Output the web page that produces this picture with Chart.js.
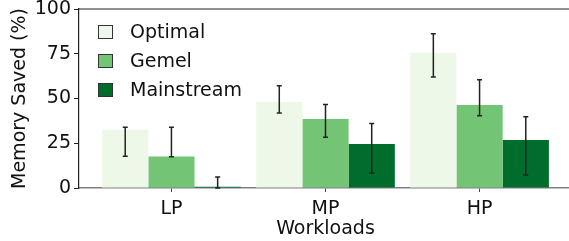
<!DOCTYPE html>
<html>
<head>
<meta charset="utf-8">
<script src="https://cdn.jsdelivr.net/npm/chart.js@4"></script>
<style>
  html, body { margin: 0; padding: 0; background: #fff; overflow: hidden; }
  #wrap { width: 580px; height: 241px; position: relative; }
</style>
</head>
<body>
<div id="wrap"><canvas id="memChart"></canvas></div>
<script>
// chart values
const workloads = ['LP', 'MP', 'HP'];
const seriesNames = ['Optimal', 'Gemel', 'Mainstream'];
const optimal = [32.6, 48.0, 75.4];
const gemel = [17.6, 38.5, 46.4];
const mainstream = [0.7, 24.6, 26.8];
// error bars as [low, high]
const optimalErr = [[17.8, 34.0], [41.9, 57.1], [62.0, 86.2]];
const gemelErr = [[17.5, 34.0], [28.3, 46.7], [40.4, 60.5]];
const mainstreamErr = [[0, 6.2], [8.4, 36.1], [7.3, 39.8]];
const yTicks = [0, 25, 50, 75, 100];
const colors = ['#edf8e9', '#74c476', '#006d2c'];

const FONT = 'DejaVu Sans';
Chart.defaults.font.family = FONT;
Chart.defaults.font.size = 19;
Chart.defaults.color = '#111';

const seriesValues = [optimal, gemel, mainstream];
const seriesErr = [optimalErr, gemelErr, mainstreamErr];

// error bars, spines, legend and axis titles
const extras = {
    id: 'extras',
    afterDatasetsDraw(chart) {
        const ctx = chart.ctx;
        const yScale = chart.scales.y;
        ctx.save();
        ctx.strokeStyle = '#222';
        ctx.lineWidth = 1.5;
        chart.data.datasets.forEach((ds, di) => {
            const meta = chart.getDatasetMeta(di);
            meta.data.forEach((bar, i) => {
                const [lo, hi] = seriesErr[di][i];
                const x = bar.x;
                const y1 = yScale.getPixelForValue(lo);
                const y2 = yScale.getPixelForValue(hi);
                ctx.beginPath();
                ctx.moveTo(x, y1); ctx.lineTo(x, y2);
                ctx.moveTo(x - 2.5, y1); ctx.lineTo(x + 2.5, y1);
                ctx.moveTo(x - 2.5, y2); ctx.lineTo(x + 2.5, y2);
                ctx.stroke();
            });
        });
        ctx.restore();
    },
    afterDraw(chart) {
        const ctx = chart.ctx;
        const area = chart.chartArea;
        ctx.save();
        // top and right spines
        ctx.strokeStyle = '#222';
        ctx.lineWidth = 1.2;
        ctx.beginPath();
        ctx.moveTo(area.left, area.top);
        ctx.lineTo(area.right, area.top);
        ctx.lineTo(area.right, area.bottom);
        ctx.stroke();

        // legend inside the plot
        ctx.font = '19px "' + FONT + '"';
        ctx.textBaseline = 'middle';
        ctx.textAlign = 'left';
        seriesNames.forEach((name, i) => {
            const cy = 32 + i * 29;
            ctx.fillStyle = colors[i];
            ctx.fillRect(98, cy - 7, 15, 14);
            ctx.strokeStyle = '#333';
            ctx.lineWidth = 1;
            ctx.strokeRect(98.5, cy - 6.5, 14, 13);
            ctx.fillStyle = '#111';
            ctx.fillText(name, 130, cy + 1);
        });

        // axis titles
        ctx.textAlign = 'center';
        ctx.fillText('Workloads', (area.left + area.right) / 2, 229);
        ctx.translate(20, (area.top + area.bottom) / 2);
        ctx.rotate(-Math.PI / 2);
        ctx.fillText('Memory Saved (%)', 0, 0);
        ctx.restore();
    }
};

new Chart(document.getElementById('memChart'), {
    type: 'bar',
    data: {
        datasets: seriesNames.map((name, di) => ({
            label: name,
            data: seriesValues[di].map((v, i) => ({ x: i, y: v })),
            backgroundColor: colors[di],
            borderWidth: 0,
            barPercentage: 1.0,
            categoryPercentage: 0.9,
        }))
    },
    options: {
        responsive: true,
        maintainAspectRatio: false,
        devicePixelRatio: 1,
        animation: false,
        layout: { padding: { top: 9, right: 8, left: 0, bottom: 0 } },
        plugins: {
            legend: { display: false },
            tooltip: { enabled: false },
        },
        scales: {
            x: {
                type: 'linear',
                min: -0.6,
                max: 2.6,
                offset: false,
                afterBuildTicks: (scale) => {
                    scale.ticks = workloads.map((w, i) => ({ value: i }));
                },
                afterFit: (scale) => {
                    scale.height = 53;
                    scale.paddingLeft = 0;
                    scale.paddingRight = 0;
                },
                ticks: {
                    callback: (v) => workloads[v],
                    padding: 6,
                    color: '#111',
                    maxRotation: 0,
                    autoSkip: false,
                },
                grid: {
                    display: true,
                    offset: false,
                    drawOnChartArea: false,
                    drawTicks: true,
                    tickLength: 4,
                    color: '#444',
                },
                border: { display: true, color: '#808080', width: 1.5 },
            },
            y: {
                min: 0,
                max: 100,
                afterBuildTicks: (scale) => {
                    scale.ticks = yTicks.map(v => ({ value: v }));
                },
                afterFit: (scale) => {
                    scale.width = 79;
                    scale.paddingTop = 0;
                    scale.paddingBottom = 0;
                },
                ticks: { padding: 3, color: '#111' },
                grid: {
                    display: true,
                    offset: false,
                    drawOnChartArea: false,
                    drawTicks: true,
                    tickLength: 5,
                    color: '#222',
                },
                border: { display: true, color: '#222', width: 1.2 },
            }
        }
    },
    plugins: [extras]
});
</script>
</body>
</html>
